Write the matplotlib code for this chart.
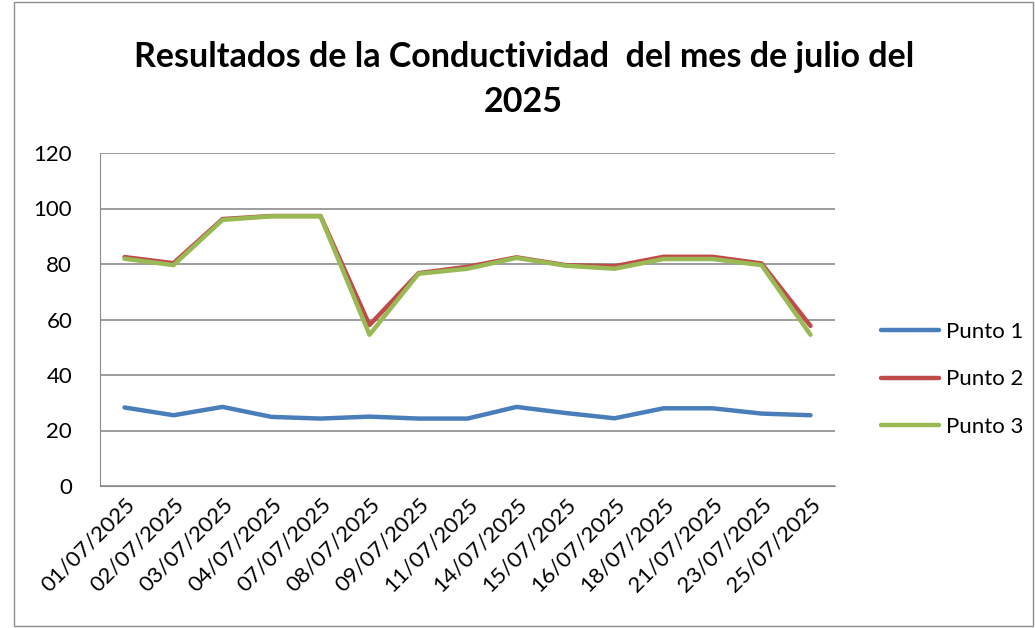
import matplotlib
matplotlib.use("Agg")
import matplotlib.pyplot as plt
from matplotlib.patches import Rectangle

plt.rcParams['font.family'] = ['Lato', 'DejaVu Sans']

# Fechas de muestreo (julio 2025)
fechas = ['01/07/2025', '02/07/2025', '03/07/2025', '04/07/2025', '07/07/2025',
          '08/07/2025', '09/07/2025', '11/07/2025', '14/07/2025', '15/07/2025',
          '16/07/2025', '18/07/2025', '21/07/2025', '23/07/2025', '25/07/2025']

# Conductividad por punto
punto1 = [28.3, 25.5, 28.5, 24.9, 24.3, 25.0, 24.3, 24.3, 28.5, 26.3, 24.4, 28.0, 28.0, 26.1, 25.5]
punto2 = [82.5, 80.3, 96.2, 97.3, 97.3, 58.0, 76.7, 79.0, 82.4, 79.6, 79.2, 82.6, 82.6, 80.2, 57.7]
punto3 = [81.9, 79.6, 95.9, 97.2, 97.2, 54.5, 76.5, 78.3, 82.2, 79.4, 78.3, 81.8, 81.8, 79.6, 54.5]

series = [('Punto 1', punto1, '#4A7EBB'),
          ('Punto 2', punto2, '#BE4B48'),
          ('Punto 3', punto3, '#98B954')]

fig = plt.figure(figsize=(10.35, 6.28), dpi=100)
ax = fig.add_axes([100 / 1035, 1 - 486 / 628, 735 / 1035, 333 / 628])

x = list(range(len(fechas)))
for nombre, valores, color in series:
    ax.plot(x, valores, color=color, linewidth=3.2, label=nombre, solid_capstyle='round')

ax.set_xlim(-0.5, len(fechas) - 0.5)
ax.set_ylim(0, 120)
ax.set_yticks(range(0, 121, 20))
ax.yaxis.grid(True, color='#8c8c8c', linewidth=1.2)
ax.set_axisbelow(True)
ax.set_xticks(x)
ax.set_xticklabels(fechas, rotation=45, ha='right', rotation_mode='anchor', fontsize=16)
ax.tick_params(axis='y', labelsize=16, length=0, pad=20)
ax.tick_params(axis='x', length=0, pad=6)
for s in ['top', 'right']:
    ax.spines[s].set_visible(False)
ax.spines['left'].set_color('#8c8c8c')
ax.spines['bottom'].set_color('#8c8c8c')

fig.text(0.506, 0.91, 'Resultados de la Conductividad  del mes de julio del',
         ha='center', va='center', fontsize=24.5, fontweight='bold')
fig.text(0.506, 0.838, '2025', ha='center', va='center', fontsize=24.5, fontweight='bold')

ax.legend(loc='center left', bbox_to_anchor=(1.035, 0.32), frameon=False,
          fontsize=16, handlelength=2.6, labelspacing=1.25, handletextpad=0.35)

fig.patches.append(Rectangle((14 / 1035, 0.003), 1 - 16 / 1035, 0.994, transform=fig.transFigure,
                             fill=False, edgecolor='#8c8c8c', linewidth=1))

fig.savefig('out.png', dpi=100)
